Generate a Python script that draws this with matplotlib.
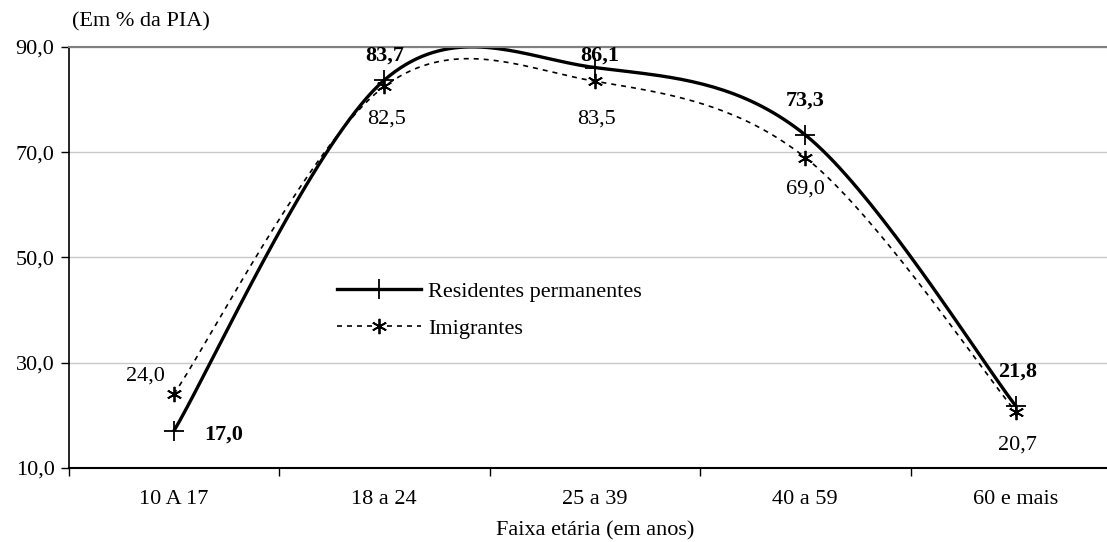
import numpy as np
import matplotlib
matplotlib.use('Agg')
import matplotlib.pyplot as plt

plt.rcParams['font.family'] = ['Liberation Serif', 'DejaVu Serif']

categorias = ['10 A 17', '18 a 24', '25 a 39', '40 a 59', '60 e mais']
residentes = [17.0, 83.7, 86.1, 73.3, 21.8]
imigrantes = [24.0, 82.5, 83.5, 69.0, 20.7]

# label offsets in pixels (dx, dy)
off_res = [(50, -3), (0, 25), (5, 12), (0, 34), (2, 34)]
off_imi = [(-28, 18), (2, -33), (2, -38), (0, -32), (2, -33)]

FS = 16


def smooth(xs, ys, n=40):
    # Excel-like smoothed line: Bezier with control points from neighbours
    p = np.column_stack([xs, ys]).astype(float)
    p = np.vstack([p[0], p, p[-1]])
    out = []
    t = np.linspace(0, 1, n)[:, None]
    for i in range(1, len(p) - 2):
        p0, p1, p2, p3 = p[i - 1], p[i], p[i + 1], p[i + 2]
        c1 = p1 + (p2 - p0) / 6
        c2 = p2 - (p3 - p1) / 6
        seg = ((1 - t) ** 3) * p1 + 3 * ((1 - t) ** 2) * t * c1 + 3 * (1 - t) * t ** 2 * c2 + t ** 3 * p2
        out.append(seg if i == 1 else seg[1:])
    s = np.vstack(out)
    return s[:, 0], s[:, 1]


fig = plt.figure(figsize=(11.07, 5.42), dpi=100)
ax = fig.add_axes([68.5 / 1107, 74 / 542, 1052.5 / 1107, 421 / 542])

x = np.arange(len(categorias))

sx, sy = smooth(x, residentes)
ax.plot(sx, sy, color='black', lw=2.4, solid_capstyle='butt')
ax.plot(x, residentes, ls='none', marker='+', ms=15, mew=1.3, color='black')
ax.plot([], [], color='black', lw=2.4, marker='+', ms=15, mew=1.3, label='Residentes permanentes')

sx, sy = smooth(x, imigrantes)
ax.plot(sx, sy, color='black', lw=1.2, ls=(0, (3, 3)))
ax.plot(x, imigrantes, ls='none', marker=(6, 2, 0), ms=11, mew=1.3, color='black')
ax.plot([], [], color='black', lw=1.2, ls=(0, (3, 3)), marker=(6, 2, 0), ms=11, mew=1.3, label='Imigrantes')

for i in range(len(categorias)):
    ax.annotate(f'{residentes[i]:.1f}'.replace('.', ','), (x[i], residentes[i]),
                xytext=off_res[i], textcoords='offset pixels', ha='center', va='center',
                fontsize=FS, fontweight='bold')
    ax.annotate(f'{imigrantes[i]:.1f}'.replace('.', ','), (x[i], imigrantes[i]),
                xytext=off_imi[i], textcoords='offset pixels', ha='center', va='center',
                fontsize=FS)

ax.set_xlim(-0.5, 4.5)
ax.set_ylim(10, 90)
ax.set_yticks([10, 30, 50, 70, 90])
ax.set_yticklabels(['10,0', '30,0', '50,0', '70,0', '90,0'], fontsize=FS)
ax.yaxis.grid(True, color='#c8c8c8', lw=1)
ax.set_axisbelow(True)

ax.set_xticks([-0.5, 0.5, 1.5, 2.5, 3.5])
ax.set_xticklabels([])
ax.set_xticks(x, minor=True)
ax.set_xticklabels(categorias, minor=True, fontsize=FS)
ax.tick_params(axis='x', which='major', length=6, width=1, direction='out')
ax.tick_params(axis='x', which='minor', length=0, pad=16)
ax.tick_params(axis='y', length=6, width=1, direction='out', pad=4)

ax.spines['top'].set_color('#808080')
ax.spines['top'].set_linewidth(1.5)
ax.spines['right'].set_visible(False)
ax.spines['left'].set_linewidth(1.2)
ax.spines['bottom'].set_linewidth(1.5)

ax.set_xlabel('Faixa etária (em anos)', fontsize=FS, labelpad=9)
fig.text(72 / 1107, 1 - 22 / 542, '(Em % da PIA)', fontsize=FS, va='center', ha='left')

ax.legend(loc='center left', bbox_to_anchor=(317 / 1107, 1 - 310 / 542), bbox_transform=fig.transFigure,
          frameon=False, fontsize=FS, handlelength=3.8, handletextpad=0.3, labelspacing=0.75)

fig.savefig('out.png', dpi=100)
